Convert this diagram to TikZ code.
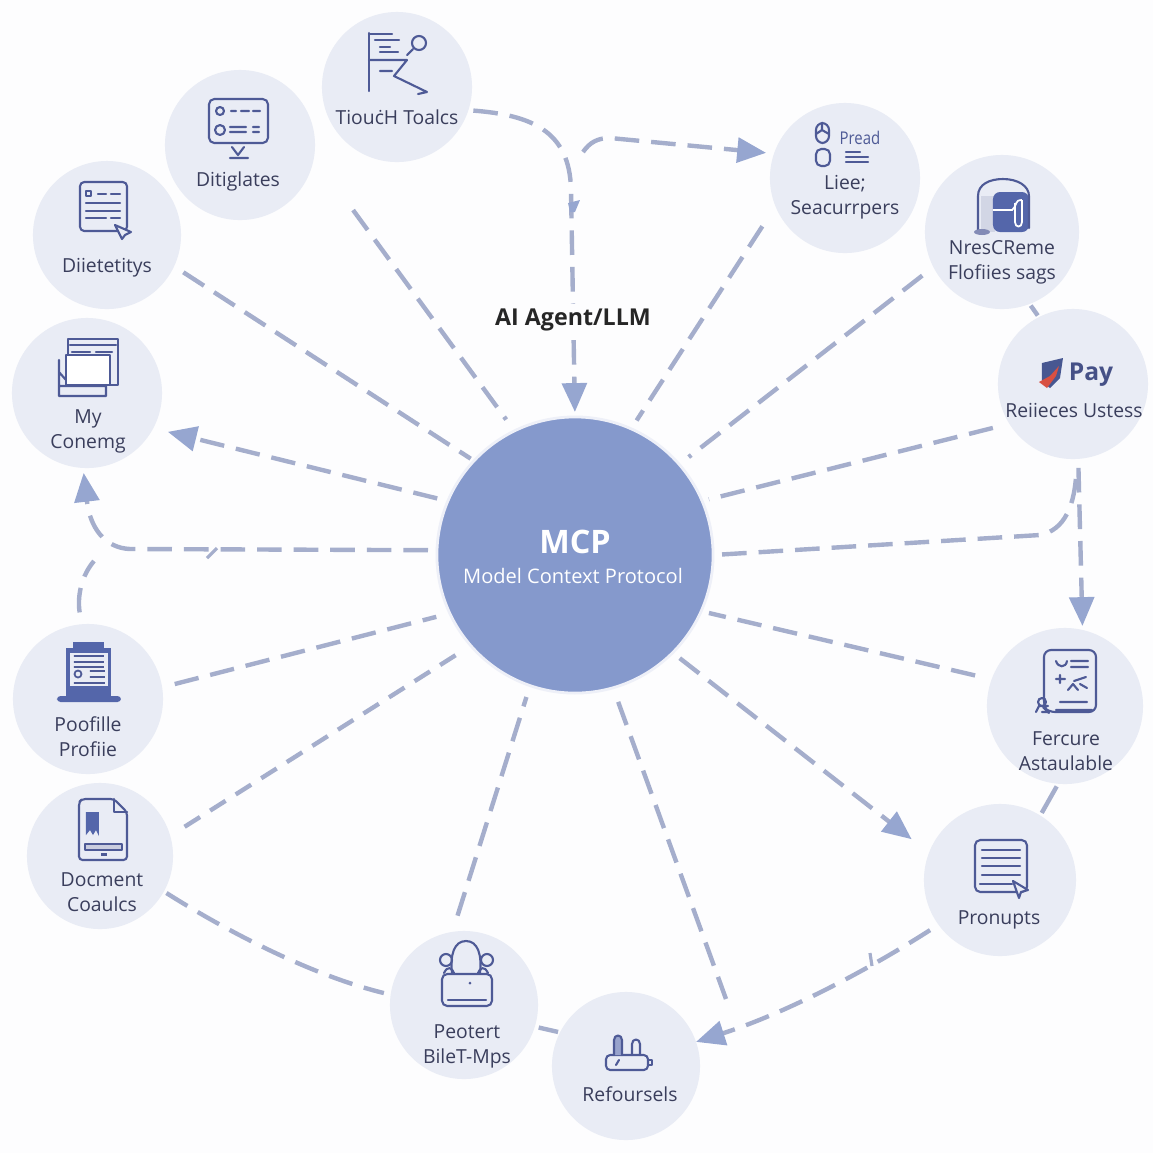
\documentclass[tikz,border=0pt]{standalone}
\usepackage{fontspec}
\setmainfont{Open Sans}
\usetikzlibrary{arrows.meta}
\definecolor{pagewhite}{RGB}{253,253,254}
\definecolor{satfill}{RGB}{233,236,245}
\definecolor{hubblue}{RGB}{133,153,204}
\definecolor{hubrim}{RGB}{238,240,248}
\definecolor{linkgrey}{RGB}{165,174,204}
\definecolor{tipblue}{RGB}{150,166,208}
\definecolor{labelink}{RGB}{58,62,92}
\definecolor{iconline}{RGB}{78,90,150}
\definecolor{iconfill}{RGB}{84,102,170}
\definecolor{paybrick}{RGB}{216,80,66}
\tikzset{
  satnode/.style={circle,fill=satfill,inner sep=0pt,outer sep=0pt},
  satlabel/.style={font=\fontsize{5.5}{7.1}\selectfont,text=labelink,align=center,inner sep=0pt},
  linkline/.style={linkgrey,line width=1.25pt,dash pattern=on 7pt off 3.4pt},
  linkarrow/.style={linkline,-{Triangle[length=8.2pt,width=7pt,color=tipblue,fill=tipblue]}},
  iconpen/.style={iconline,line width=0.6pt,line cap=round,line join=round}
}
\begin{document}
\begin{tikzpicture}[x=0.01cm,y=-0.01cm]
        \useasboundingbox (0,0) rectangle (1153,1153);
        \fill[pagewhite] (0,0) rectangle (1153,1153);
        % Hub
        \node[circle,fill=hubblue,draw=hubrim,line width=0.8pt,inner sep=0pt,outer sep=0pt,minimum size=2.76cm] (hub) at (575,555) {};
        \node[font=\fontsize{9.2}{11}\selectfont\bfseries,text=white,inner sep=0pt] (hubtitle) at (575,542) {MCP};
        \node[font=\fontsize{5.7}{7}\selectfont,text=white,inner sep=0pt] (hubname) at (573,576) {Model Context Protocol};
        % Satellites
        \node[satnode,minimum size=1.5cm] (touch) at (397,87) {};
        \node[satnode,minimum size=1.5cm] (digi) at (240,145) {};
        \node[satnode,minimum size=1.48cm] (diet) at (107,235) {};
        \node[satnode,minimum size=1.5cm] (mycon) at (87,393) {};
        \node[satnode,minimum size=1.5cm] (poof) at (88,699) {};
        \node[satnode,minimum size=1.46cm] (docs) at (100,856) {};
        \node[satnode,minimum size=1.48cm] (peot) at (464,1005) {};
        \node[satnode,minimum size=1.48cm] (refo) at (626,1066) {};
        \node[satnode,minimum size=1.52cm] (pron) at (1000,880) {};
        \node[satnode,minimum size=1.56cm] (ferc) at (1065,706) {};
        \node[satnode,minimum size=1.5cm] (pays) at (1073,384) {};
        \node[satnode,minimum size=1.54cm] (nres) at (1002,232) {};
        \node[satnode,minimum size=1.5cm] (liee) at (845,178) {};
        % Free ends
        \coordinate (liestart) at (583,152);
        \coordinate (refoend) at (726,999);
        \coordinate (myarc) at (94,561);
        % Radial links
        \draw[linkline,shorten <=0.11cm,shorten >=0.04cm] (diet.-25.6) -- (hub.137.6);
        \draw[linkline,shorten <=0.66cm,shorten >=0.14cm] (digi.-9.6) -- (hub.116.5);
        \draw[linkline,shorten <=0.24cm,shorten >=0.1cm] (liee.-158.9) -- (hub.66);
        \draw[linkline,shorten <=0.14cm,shorten >=0.12cm] (nres.-153.4) -- (hub.41.8);
        \draw[linkline,shorten <=0.17cm,shorten >=0.07cm] (pays.-148.8) -- (hub.23.2);
        \draw[linkline,shorten <=0.17cm,shorten >=0.08cm] (ferc.160.3) -- (hub.-24.6);
        \draw[linkline,shorten <=0.15cm] (hub.-74) -- (refoend);
        \draw[linkline,shorten <=0.17cm,shorten >=0.12cm] (peot.99.3) -- (hub.-109.5);
        \draw[linkline,dash pattern=on 5.2pt off 3.4pt,shorten <=0.17cm,shorten >=0.12cm] (docs.16.9) -- (hub.-139);
        \draw[linkline,shorten <=0.13cm,shorten >=0.14cm] (poof.9) -- (hub.-155.6);
        % Links with arrows
        \draw[linkarrow,shorten <=0.11cm,shorten >=0.15cm] (hub.157.6) -- (mycon.-28.2);
        \draw[linkarrow,shorten <=0.09cm,shorten >=0.22cm] (hub.-45) -- (pron.159.8);
        \draw[linkarrow,shorten <=0.05cm,shorten >=0.05cm] (touch.-18) .. controls (530,115) and (570,130) .. (571,190) -- (hub.90);
        \draw[linkarrow,shorten >=0.08cm] (liestart) .. controls (590,142) and (598,138) .. (610,138) -- (liee.161);
        \draw[linkarrow,shorten <=0.09cm,shorten >=0.05cm] (hub.178) -- (130,549) .. controls (105,548) and (90,528) .. (mycon.-93.6);
        \draw[linkarrow,shorten <=0.09cm,shorten >=0.04cm] (pays.-86) -- (ferc.77);
        \draw[linkarrow,shorten <=0.1cm] (pron.-144.8) .. controls (860,975) and (780,1015) .. (refo.19.6);
        % Curved links without arrows
        \draw[linkline,shorten <=0.09cm,shorten >=0.11cm] (hub.0) -- (1040,535) .. controls (1065,530) and (1075,505) .. (pays.-87);
        \draw[linkline,shorten <=0.03cm,shorten >=0.07cm] (docs.-29) .. controls (225,930) and (310,975) .. (peot.172);
        \draw[linkline,shorten <=0.12cm] (poof.95) .. controls (77,595) and (82,575) .. (myarc);
        % Short pieces between neighbours
        \draw[linkgrey,line width=1.25pt,shorten <=0.03cm,shorten >=0.03cm] (ferc.-95) -- (pron.58);
        \draw[linkgrey,line width=1.25pt,shorten <=0.02cm,shorten >=0.02cm] (nres.-69) -- (pays.117);
        \draw[linkgrey,line width=1.25pt,shorten <=0.04cm,shorten >=0.02cm] (peot.-17.8) -- (refo.153.4);
        % Small marks on the lines
        \fill[tipblue] (568,203) -- (580,200) -- (575,212) -- (570,212) -- cycle;
        \draw[linkgrey,line width=0.9pt] (207,558) -- (217,548);
        \draw[linkgrey,line width=0.9pt] (870,953) -- (872,966);
        % Top label
        \node[font=\fontsize{6.6}{9}\selectfont\bfseries,text=black!85,fill=pagewhite,inner xsep=1pt,inner ysep=1.5pt] (agent) at (573,320) {AI Agent/LLM};
        % Labels
        \node[satlabel] (touchlabel) at (397,117) {TiouċH Toalcs};
        \node[satlabel] (digilabel) at (238,181) {Ditiglates};
        \node[satlabel] (dietlabel) at (107,268) {Diietetitys};
        \node[satlabel] (myconlabel) at (88,431) {My\\Conemg};
        \node[satlabel] (pooflabel) at (88,737) {Poofille\\Profiie};
        \node[satlabel] (docslabel) at (102,892) {Docment\\Coaulcs};
        \node[satlabel] (peotlabel) at (467,1046) {Peotert\\BileT-Mps};
        \node[satlabel] (refolabel) at (630,1094) {Refoursels};
        \node[satlabel] (pronlabel) at (999,920) {Pronupts};
        \node[satlabel] (ferclabel) at (1066,751) {Fercure\\Astaulable};
        \node[satlabel] (payslabel) at (1074,410) {Reiieces Ustess};
        \node[satlabel] (nreslabel) at (1002,262) {NresCReme\\Flofiies sags};
        \node[satlabel] (lieelabel) at (845,197) {Liee;\\Seacurrpers};
        % Icon: touch
        \draw[iconpen] (369,33) -- (369,91) (369,34) -- (392,34) (375,40) -- (399,40) (380,47) -- (390,47) (380,52) -- (398,52);
        \draw[iconpen] (369,60) -- (407,60) -- (394,76) -- (427,92) -- (418,94) (380,71) -- (392,71);
        \draw[iconpen] (419,43) circle (7) (413,49) -- (407,55);
        % Icon: digi
        \draw[iconpen,rounded corners=1.5pt] (209,99) rectangle (268,143);
        \draw[iconpen] (220,111) circle (4) (231,111) -- (236,111) (241,111) -- (249,111) (253,111) -- (260,111);
        \draw[iconpen] (220,130) circle (5) (230,127) -- (246,127) (230,132) -- (246,132) (253,127) -- (259,127) (253,132) -- (259,132);
        \draw[iconpen] (232,147) -- (238,155) -- (244,147) (230,158) -- (248,158);
        % Icon: diet
        \draw[iconpen,rounded corners=1.2pt] (80,182) rectangle (127,231);
        \draw[iconpen] (86,191) rectangle (91,196) (98,194) -- (106,194) (111,194) -- (120,194);
        \draw[iconpen] (86,203) -- (120,203) (86,211) -- (120,211) (86,218) -- (106,218) (111,218) -- (120,218);
        \draw[iconpen,fill=satfill] (115,225) -- (131,232) -- (125,235) -- (122,239) -- cycle;
        % Icon: mycon
        \draw[iconpen] (68,339) rectangle (118,385) (70,345) -- (116,345) (72,352) -- (90,352) (96,352) -- (112,352);
        \draw[iconpen,fill=white] (66,355) rectangle (110,385);
        \draw[iconpen] (59,360) -- (59,396) -- (106,396) -- (106,385) (59,386) -- (106,386) (66,380) -- (59,372);
        % Icon: pays
        \fill[iconfill!85!black] (1042,363) -- (1063,358) -- (1060,378) -- (1050,388) -- (1042,382) -- cycle;
        \fill[paybrick] (1039,382) -- (1050,376) -- (1059,366) -- (1056,376) -- (1047,388) -- cycle;
        \node[font=\fontsize{7}{9}\selectfont\bfseries,text=iconline!90!black,inner sep=0pt] (paysword) at (1091,375) {Pay};
        % Icon: liee
        \draw[iconpen,rounded corners=2pt] (816,123) rectangle (829,143);
        \draw[iconpen] (816,134) -- (822,130) -- (829,134) (822,123) -- (822,130);
        \draw[iconpen,rounded corners=1.5pt] (816,149) rectangle (830,166);
        \node[font=\fontsize{5}{6}\selectfont,text=iconline,inner sep=0pt,xscale=0.85] (lieeword) at (860,138) {Pread};
        \draw[iconpen] (846,152) -- (860,152) (846,157) -- (868,157) (846,162) -- (868,162);
        % Icon: nres
        \fill[linkgrey!50] (981,196) rectangle (995,232);
        \fill[iconfill,rounded corners=2pt] (993,192) rectangle (1029,232);
        \draw[iconpen] (978,230) -- (978,196) .. controls (978,184) and (990,179) .. (1003,179) .. controls (1018,179) and (1029,186) .. (1029,196) -- (1029,228);
        \draw[white,line width=0.5pt] (993,210) -- (1012,210) .. controls (1018,205) and (1014,200) .. (1022,200) (1015,203) -- (1015,222) .. controls (1015,228) and (1022,228) .. (1022,222) -- (1022,200);
        \fill[iconline!70] (982,232) ellipse (8 and 3);
        % Icon: poof
        \fill[iconfill] (73,642) rectangle (104,650);
        \fill[iconfill] (66,648) rectangle (111,696);
        \fill[satfill] (70,653) rectangle (108,686);
        \draw[iconline,line width=0.5pt] (74,656) -- (104,656) (74,662) -- (104,662) (74,667) -- (104,667) (90,671) -- (105,671) (90,677) -- (105,677) (74,683) -- (105,683) (78,674) circle (3.5);
        \fill[iconfill,rounded corners=1pt] (57,696) rectangle (121,702);
        % Icon: docs
        \draw[iconpen,rounded corners=1pt] (114,799) -- (82,799) -- (79,802) -- (79,860) -- (127,860) -- (127,812) -- cycle;
        \draw[iconpen] (114,799) -- (114,812) -- (127,812);
        \fill[iconfill] (86,812) -- (99,812) -- (99,836) -- (96,830) -- (93,835) -- (90,830) -- (86,835) -- cycle;
        \draw[iconpen,fill=iconline!30] (85,844) rectangle (122,850);
        \fill[iconline] (101,853) rectangle (107,856);
        % Icon: peot
        \draw[iconpen] (452,973) .. controls (450,955) and (454,941) .. (466,941) .. controls (478,941) and (482,955) .. (480,973);
        \draw[iconpen] (446,960) circle (6) (487,960) circle (6);
        \draw[iconpen] (444,973) .. controls (448,965) and (452,968) .. (454,973) (488,973) .. controls (484,965) and (480,968) .. (478,973);
        \draw[iconpen,rounded corners=1.5pt] (442,974) rectangle (492,1006);
        \draw[iconpen] (448,1000) -- (486,1000);
        \fill[iconline] (470,983) circle (1.5);
        % Icon: refo
        \draw[iconpen,rounded corners=1.2pt] (606,1055) rectangle (648,1070);
        \draw[iconpen] (648,1060) -- (652,1060) -- (652,1065) -- (648,1065);
        \draw[iconpen,fill=iconfill!60] (614,1055) -- (614,1040) .. controls (614,1034) and (622,1034) .. (622,1040) -- (622,1055);
        \draw[iconpen] (632,1055) -- (632,1044) .. controls (632,1038) and (640,1038) .. (640,1044) -- (640,1055);
        \draw[iconpen] (616,1065) -- (619,1060);
        % Icon: pron
        \draw[iconpen,rounded corners=1.5pt] (975,840) rectangle (1027,892);
        \draw[iconpen] (982,850) -- (1020,850) (982,858) -- (1020,858) (982,866) -- (1020,866) (982,875) -- (1020,875) (980,884) -- (1012,884);
        \draw[iconpen,fill=satfill] (1013,881) -- (1028,890) -- (1021,892) -- (1019,898) -- cycle;
        % Icon: ferc
        \draw[iconpen,rounded corners=2pt] (1048,712) -- (1044,708) -- (1044,650) -- (1096,650) -- (1096,712) -- cycle;
        \draw[iconpen] (1071,661) -- (1088,661) (1071,667) -- (1088,667) (1056,661) .. controls (1058,668) and (1066,668) .. (1067,661);
        \draw[iconpen] (1056,679) -- (1065,679) (1060,675) -- (1060,683) (1068,690) -- (1073,684) -- (1078,690) (1074,681) -- (1086,677) (1080,684) -- (1087,688);
        \draw[iconpen] (1060,702) -- (1087,702) (1056,710) -- (1092,710) (1042,702) circle (4) (1036,712) -- (1039,706) -- (1048,706) (1042,712) -- (1048,712);
\end{tikzpicture}
\end{document}
